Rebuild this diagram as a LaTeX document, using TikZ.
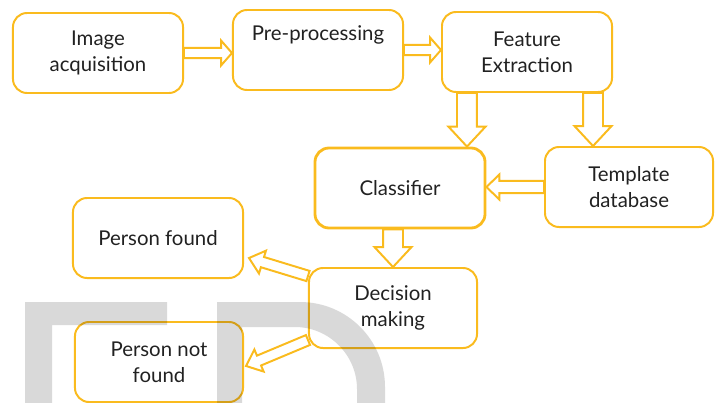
\documentclass[tikz,border=0pt]{standalone}
\usepackage{fontspec}
\setmainfont{Lato}
\usetikzlibrary{calc}
\definecolor{gold}{RGB}{250,187,30}
\tikzset{
  stage/.style={draw=gold, line width=1.4pt, rounded corners=10pt, minimum width=4.25cm, minimum height=2cm, align=center, font=\fontsize{14.5}{18.5}\selectfont, text=black!87},
  hollow/.style n args={3}{draw=gold, line width=1.4pt, fill=white, line join=miter,
    to path={let \p1=(\tikztostart), \p2=(\tikztotarget), \n1={atan2(\y2-\y1,\x2-\x1)}, \n2={veclen(\x2-\x1,\y2-\y1)} in
      [shift={(\p1)}, rotate=\n1] (0pt,#1) -- ({(\n2-#3)*1pt},#1) -- ({(\n2-#3)*1pt},#2) -- ({\n2*1pt},0pt) -- ({(\n2-#3)*1pt},-#2) -- ({(\n2-#3)*1pt},-#1) -- (0pt,-#1) -- cycle}},
}
\begin{document}
\begin{tikzpicture}[x=0.025cm, y=-0.025cm]
\useasboundingbox (0,0) rectangle (715,402);

% boxes
\node[stage] (img) at (98,53) {Image\\acquisition};
\node[stage] (pre) at (318,50) {Pre-processing\\\strut};
\node[stage] (feat) at (527,52) {Feature\\Extraction};
\node[stage, line width=2pt] (cls) at (400,188) {Classifier};
\node[stage, minimum width=4.2cm] (tpl) at (629,187) {Template\\database};
\node[stage] (found) at (158,238) {Person found};
\node[stage, minimum width=4.2cm] (dec) at (393,308) {Decision\\making};
\node[stage, minimum width=4.2cm] (notfound) at (159,362) {Person not\\found};

% arrows
\draw[hollow={3.6pt}{8.9pt}{7.8pt}] (img.east) to (img.east -| pre.west);
\draw[hollow={3.6pt}{8.9pt}{7.8pt}] (pre.east) to (pre.east -| feat.west);
\draw[hollow={7.1pt}{13.2pt}{14.2pt}] ([xshift=-1.5cm]feat.south) to ([xshift=-1.5cm]feat.south |- cls.north);
\draw[hollow={7.1pt}{13.2pt}{14.2pt}] ([xshift=1.65cm]feat.south) to ([xshift=1.65cm]feat.south |- tpl.north);
\draw[hollow={4.3pt}{8.9pt}{9.2pt}] (tpl.west) to (tpl.west -| cls.east);
\draw[hollow={7.1pt}{13.2pt}{14.2pt}] (dec.north |- cls.south) to (dec.north);
\draw[hollow={3.8pt}{8.5pt}{10pt}] ([yshift=0.8cm]dec.west) to ([shift={(0.125cm,-0.5cm)}]found.east);
\draw[hollow={3.8pt}{8.5pt}{10pt}] ([yshift=-0.8cm]dec.west) to ([shift={(0.05cm,-0.1cm)}]notfound.east);

% watermark
\begin{scope}
\clip (0,0) rectangle (715,402);
\fill[black, opacity=0.15] (25,302) rectangle (52,420) (52,302) rectangle (167,325);
\fill[black, opacity=0.15, even odd rule]
  (217,302) -- (300,302) .. controls (347,302) and (385,340) .. (385,387) -- (385,420) -- (217,420) -- cycle
  (242,327) -- (295,327) .. controls (329,327) and (357,355) .. (357,389) -- (357,420) -- (242,420) -- cycle;
\end{scope}
\end{tikzpicture}
\end{document}
